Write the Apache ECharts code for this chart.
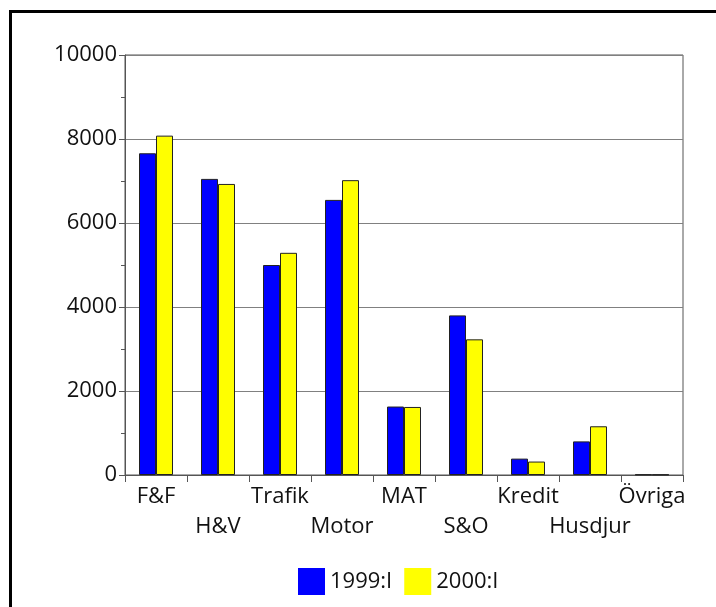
<!DOCTYPE html>
<html>
<head>
<meta charset="utf-8">
<script src="https://cdn.jsdelivr.net/npm/echarts@6/dist/echarts.min.js"></script>
<style>
  html, body { margin: 0; padding: 0; background: #fff; overflow: hidden; }
  #frame { position: absolute; left: 9px; top: 10px; width: 800px; height: 700px; border: 3px solid #000; }
  #main { position: absolute; left: 0; top: 0; width: 716px; height: 607px; }
</style>
</head>
<body>
<div id="frame"></div>
<div id="main"></div>
<script>
  // kategorier och värden
  var categories = ['F&F', 'H&V', 'Trafik', 'Motor', 'MAT', 'S&O', 'Kredit', 'Husdjur', 'Övriga'];
  var values1999 = [7660, 7050, 5000, 6550, 1630, 3800, 390, 800, 12];
  var values2000 = [8080, 6930, 5290, 7020, 1620, 3230, 320, 1160, 10];
  var seriesNames = ['1999:I', '2000:I'];

  var font = '"Open Sans", sans-serif';
  var myChart = echarts.init(document.getElementById('main'));

  myChart.setOption({
    animation: false,
    textStyle: { fontFamily: font },
    grid: {
      left: 125, right: 33, top: 55, bottom: 132,
      show: true, borderColor: '#555', borderWidth: 1
    },
    legend: {
      left: 298, top: 568, padding: 0,
      itemWidth: 27, itemHeight: 27, itemGap: 12,
      icon: 'rect',
      textStyle: { fontSize: 22, color: '#111', fontFamily: font },
      itemStyle: { borderWidth: 0 },
      data: seriesNames
    },
    xAxis: {
      type: 'category',
      data: categories,
      axisLine: { lineStyle: { color: '#555' } },
      axisTick: { show: true, length: 7, lineStyle: { color: '#555' } },
      axisLabel: {
        interval: 0, fontSize: 22, color: '#111', fontFamily: font,
        lineHeight: 30, margin: 7,
        formatter: function (v, i) { return i % 2 ? '\n' + v : v; }
      }
    },
    yAxis: {
      type: 'value',
      min: 0, max: 10000, interval: 2000,
      axisLine: { show: true, lineStyle: { color: '#555' } },
      axisTick: { show: true, length: 6, lineStyle: { color: '#555' } },
      minorTick: { show: true, splitNumber: 2, length: 4, lineStyle: { color: '#555' } },
      splitLine: { lineStyle: { color: '#808080' } },
      axisLabel: {
        fontSize: 22, color: '#111', fontFamily: font, margin: 8,
        formatter: function (v) { return String(v); }
      }
    },
    series: [
      {
        name: seriesNames[0], type: 'bar', data: values1999,
        barWidth: 17, barGap: '0%',
        itemStyle: { color: '#0000ff', borderColor: '#222', borderWidth: 1 }
      },
      {
        name: seriesNames[1], type: 'bar', data: values2000,
        barWidth: 17,
        itemStyle: { color: '#ffff00', borderColor: '#222', borderWidth: 1 }
      }
    ]
  });
</script>
</body>
</html>
